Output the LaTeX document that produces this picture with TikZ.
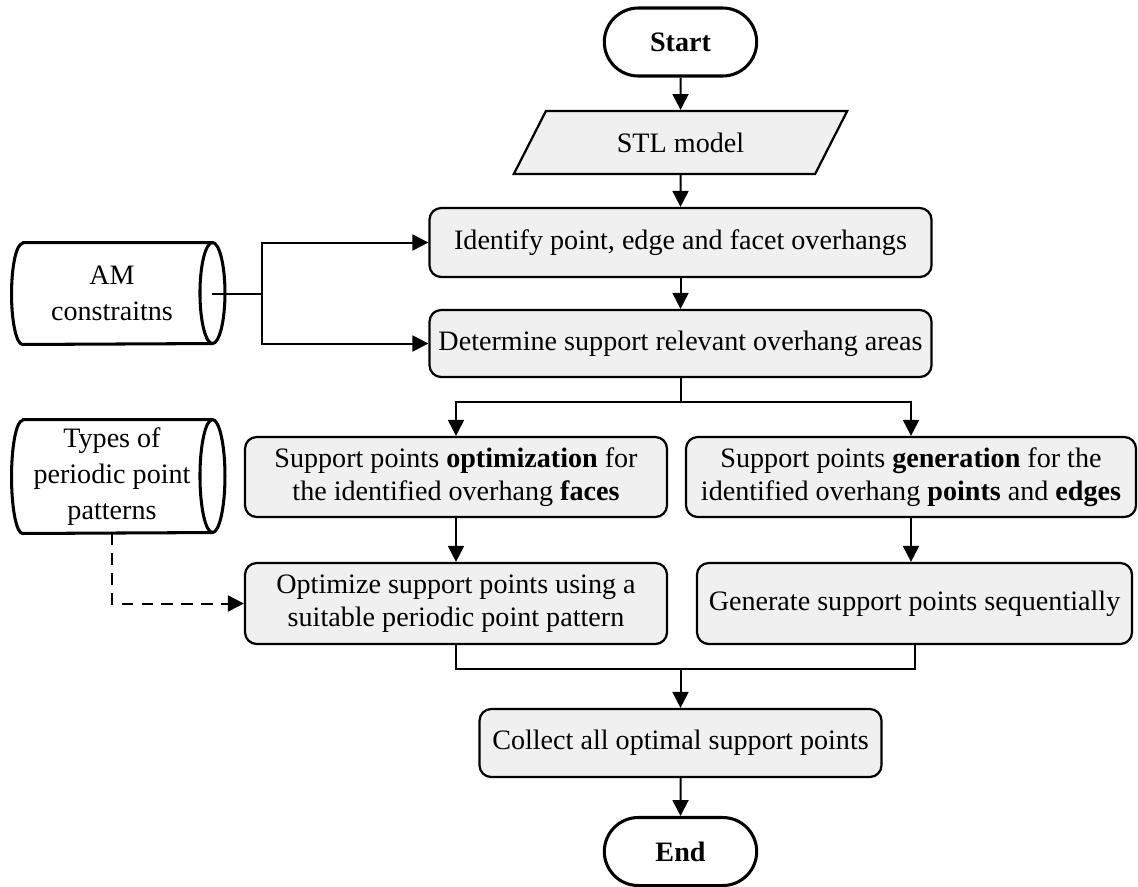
\documentclass[tikz,border=0pt]{standalone}
\usepackage{fontspec}
\setmainfont{Liberation Serif}
\usetikzlibrary{shapes.geometric,shapes.misc,arrows.meta}
\definecolor{boxfill}{HTML}{F0F0F0}
\tikzset{
  procbox/.style={draw,line width=0.95pt,rounded corners=5pt,fill=boxfill,align=center,inner sep=2pt},
  termbox/.style={draw,line width=1.3pt,rounded rectangle,font=\fontsize{12}{14}\selectfont\bfseries,minimum width=2.52cm,minimum height=1.02cm},
  iobox/.style={draw,line width=0.95pt,fill=boxfill,trapezium,trapezium left angle=63,trapezium right angle=117,trapezium stretches body,minimum width=5cm,inner ysep=9.2pt},
  storebox/.style={minimum width=2.835cm,inner sep=0pt},
  storetext/.style={align=center,inner sep=2pt,font=\fontsize{12}{15.5}\selectfont},
  flow/.style={line width=0.85pt}
}
\begin{document}
\begin{tikzpicture}[x=0.015cm,y=-0.015cm,font=\fontsize{12}{14}\selectfont,>={Triangle[length=6.8pt,width=6.8pt]}]
\useasboundingbox (0,0) rectangle (1138,886);
\node[termbox] (start) at (680.5,42) {Start};
\node[iobox] (stl) at (680.5,142.5) {STL model};
\node[procbox,minimum width=7.53cm,minimum height=1.035cm] (ident) at (680.5,242.5) {Identify point, edge and facet overhangs};
\node[procbox,minimum width=7.53cm,minimum height=1.005cm] (determ) at (680.5,343.5) {Determine support relevant overhang areas};
\node[procbox,minimum width=6.33cm,minimum height=1.2cm] (optfaces) at (456,477) {Support points \textbf{optimization} for\\the identified overhang \textbf{faces}};
\node[procbox,minimum width=6.75cm,minimum height=1.2cm] (genpts) at (911,477) {Support points \textbf{generation} for the\\identified overhang \textbf{points} and \textbf{edges}};
\node[procbox,minimum width=6.33cm,minimum height=1.215cm] (optpat) at (456,603.5) {Optimize support points using a\\suitable periodic point pattern};
\node[procbox,minimum width=6.525cm,minimum height=1.215cm] (genseq) at (914.5,603.5) {Generate support points sequentially};
\node[procbox,minimum width=6.03cm,minimum height=1.02cm] (collect) at (680.5,743) {Collect all optimal support points};
\node[termbox] (end) at (680.5,851.5) {End};
\node[storebox,minimum height=1.515cm] (amcon) at (117.5,293.5) {};
\node[storebox,minimum height=1.695cm] (types) at (117.5,476.5) {};
\foreach \c/\r in {amcon/0.7575cm,types/0.8475cm}{
  \draw[line width=1.3pt,line join=round] (\c.north west) -- (\c.north east)
    arc[start angle=90,end angle=-90,x radius=0.1875cm,y radius=\r] -- (\c.south west)
    arc[start angle=270,end angle=90,x radius=0.165cm,y radius=\r] -- cycle;
  \draw[line width=1.3pt] (\c.north east) arc[start angle=90,end angle=270,x radius=0.1875cm,y radius=\r];
}
\node[storetext] (amtext) at (112,293.5) {AM\\constraitns};
\node[storetext] (typestext) at (112,476.5) {Types of\\periodic point\\patterns};
\coordinate (fork) at (680.5,402);
\coordinate (join) at (680.5,669);
\coordinate (amfork) at (262,293.5);
\draw[flow,->] (start) -- (stl);
\draw[flow,->] (stl) -- (ident);
\draw[flow,->] (ident) -- (determ);
\draw[flow] (determ.south) -- (fork);
\draw[flow,->] (fork) -| (optfaces.north);
\draw[flow,->] (fork) -| (genpts.north);
\draw[flow,->] (optfaces) -- (optpat);
\draw[flow,->] (genpts.south) -- (genpts.south |- genseq.north);
\draw[flow] (optpat.south) |- (join) -| (genseq.south);
\draw[flow,->] (join) -- (collect);
\draw[flow,->] (collect) -- (end);
\draw[flow] (amcon.east) -- (amfork);
\draw[flow,->] (amfork) |- (ident.west);
\draw[flow,->] (amfork) |- (determ.west);
\draw[flow,->,dashed,dash pattern=on 5pt off 3.5pt] (typestext |- types.south) |- (optpat.west);
\end{tikzpicture}
\end{document}
